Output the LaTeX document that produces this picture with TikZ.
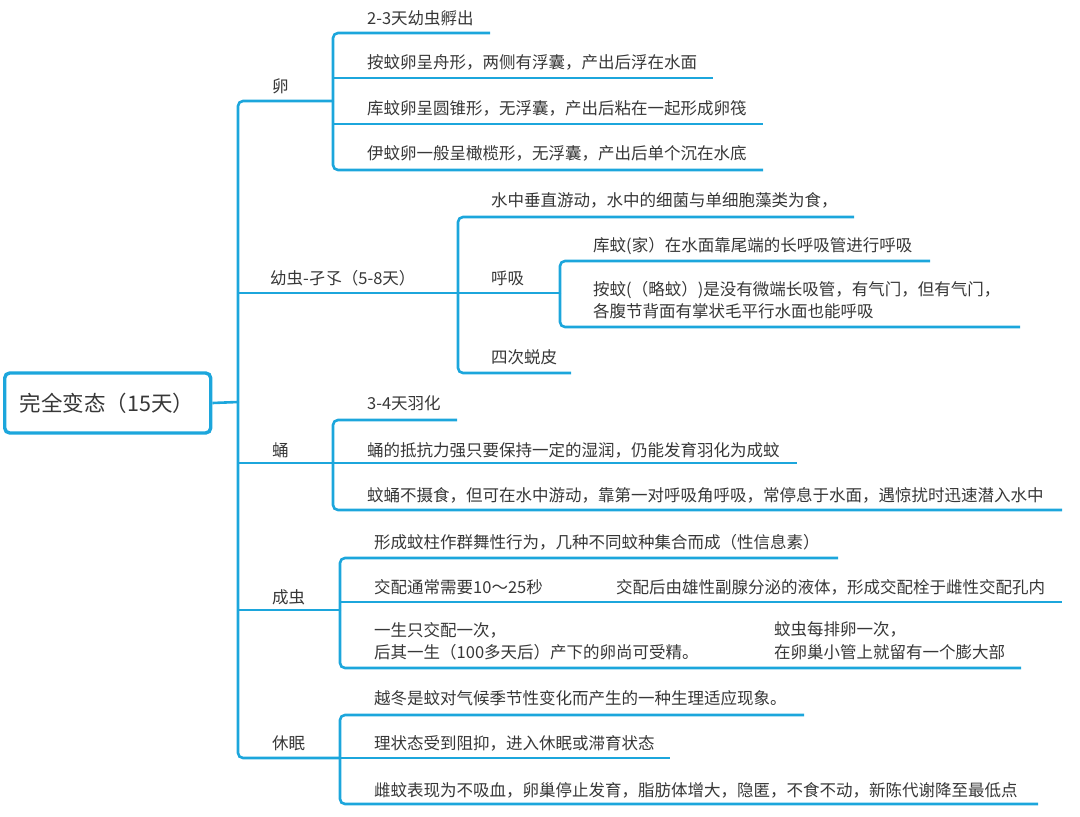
\documentclass[tikz,border=0pt]{standalone}
\usepackage{fontspec}
\setmainfont{Noto Sans CJK SC}
\usepackage{xcolor}
\definecolor{mapblue}{RGB}{28,166,220}
\definecolor{inkgray}{RGB}{55,55,55}
\usepackage{tikz}

\tikzset{
  link/.style={draw=mapblue,line width=2.6pt,rounded corners=5pt},
  leaf/.style={anchor=west,inner sep=0pt,text=inkgray,align=left,font=\fontsize{16.5}{22.5}\selectfont},
  rootbox/.style={draw=mapblue,line width=3.4pt,rounded corners=5pt,anchor=west,
    minimum height=60pt,inner xsep=15pt,text width=176pt,align=left,text=inkgray,
    font=\fontsize{21.5}{25}\selectfont}
}

\begin{document}
\begin{tikzpicture}[x=1pt,y=-1pt]
\useasboundingbox (0,0) rectangle (1080,817);

\node (root) [rootbox] at (3,403) {完全变态（15天）};
\coordinate (hub) at (238,402);

% first level
\node (egg) [leaf] at (272,86) {卵};
\node (larva) [leaf] at (270,278) {幼虫-孑孓（5-8天）};
\node (pupa) [leaf] at (272,450) {蛹};
\node (adult) [leaf] at (272,597) {成虫};
\node (rest) [leaf] at (272,743) {休眠};

\coordinate (eggfork) at (333,101);
\coordinate (larvafork) at (458,293);
\coordinate (pupafork) at (333,463);
\coordinate (adultfork) at (340,610);
\coordinate (restfork) at (340,758);

\draw[link] (root.east) -- (hub);
\draw[link] (hub) |- (eggfork);
\draw[link] (hub) |- (restfork);
\draw[link] (hub |- larvafork) -- (larvafork);
\draw[link] (hub |- pupafork) -- (pupafork);
\draw[link] (hub |- adultfork) -- (adultfork);

% egg
\node (egg1) [leaf] at (367,18) {2-3天幼虫孵出};
\node (egg2) [leaf] at (367,62) {按蚊卵呈舟形，两侧有浮囊，产出后浮在水面};
\node (egg3) [leaf] at (367,108) {库蚊卵呈圆锥形，无浮囊，产出后粘在一起形成卵筏};
\node (egg4) [leaf] at (367,153) {伊蚊卵一般呈橄榄形，无浮囊，产出后单个沉在水底};
\coordinate (egg1end) at (490,33);
\coordinate (egg2end) at (713,78);
\coordinate (egg3end) at (763,124);
\coordinate (egg4end) at (763,170);
\draw[link] (eggfork) |- (egg1end);
\draw[link] (eggfork) |- (egg4end);
\draw[link] (eggfork |- egg2end) -- (egg2end);
\draw[link] (eggfork |- egg3end) -- (egg3end);

% larva
\node (larva1) [leaf] at (491,200) {水中垂直游动，水中的细菌与单细胞藻类为食，};
\node (breath) [leaf] at (491,278) {呼吸};
\node (larva3) [leaf] at (491,357) {四次蜕皮};
\coordinate (larva1end) at (854,217);
\coordinate (breathfork) at (560,293);
\coordinate (larva3end) at (571,373);
\draw[link] (larvafork) |- (larva1end);
\draw[link] (larvafork) |- (larva3end);
\draw[link] (larvafork) -- (breathfork);

\node (breath1) [leaf] at (593,246) {库蚊(家）在水面靠尾端的长呼吸管进行呼吸};
\node (breath2) [leaf] at (593,300) {按蚊(（略蚊）)是没有微端长吸管，有气门，但有气门，\\各腹节背面有掌状毛平行水面也能呼吸};
\coordinate (breath1end) at (930,261);
\coordinate (breath2end) at (1020,327);
\draw[link] (breathfork) |- (breath1end);
\draw[link] (breathfork) |- (breath2end);

% pupa
\node (pupa1) [leaf] at (367,403) {3-4天羽化};
\node (pupa2) [leaf] at (367,450) {蛹的抵抗力强只要保持一定的湿润，仍能发育羽化为成蚊};
\node (pupa3) [leaf] at (367,495) {蚊蛹不摄食，但可在水中游动，靠第一对呼吸角呼吸，常停息于水面，遇惊扰时迅速潜入水中};
\coordinate (pupa1end) at (457,420);
\coordinate (pupa2end) at (797,463);
\coordinate (pupa3end) at (1062,510);
\draw[link] (pupafork) |- (pupa1end);
\draw[link] (pupafork) |- (pupa3end);
\draw[link] (pupafork) -- (pupa2end);

% adult
\node (adult1) [leaf] at (374,542) {形成蚊柱作群舞性行为，几种不同蚊种集合而成（性信息素）};
\node (adult2) [leaf] at (374,587) {交配通常需要10～25秒};
\node (adult2b) [leaf] at (616,587) {交配后由雄性副腺分泌的液体，形成交配栓于雌性交配孔内};
\node (adult3) [leaf] at (374,641.5) {一生只交配一次，\\后其一生（100多天后）产下的卵尚可受精。};
\node (adult3b) [leaf] at (774,640.5) {蚊虫每排卵一次，\\在卵巢小管上就留有一个膨大部};
\coordinate (adult1end) at (838,558);
\coordinate (adult2end) at (1062,602);
\coordinate (adult3end) at (1021,668);
\draw[link] (adultfork) |- (adult1end);
\draw[link] (adultfork) |- (adult3end);
\draw[link] (adultfork |- adult2end) -- (adult2end);

% rest
\node (rest1) [leaf] at (374,698) {越冬是蚊对气候季节性变化而产生的一种生理适应现象。};
\node (rest2) [leaf] at (374,743) {理状态受到阻抑，进入休眠或滞育状态};
\node (rest3) [leaf] at (374,790) {雌蚊表现为不吸血，卵巢停止发育，脂肪体增大，隐匿，不食不动，新陈代谢降至最低点};
\coordinate (rest1end) at (804,715);
\coordinate (rest2end) at (670,758);
\coordinate (rest3end) at (1038,804);
\draw[link] (restfork) |- (rest1end);
\draw[link] (restfork) |- (rest3end);
\draw[link] (restfork) -- (rest2end);
\end{tikzpicture}
\end{document}
